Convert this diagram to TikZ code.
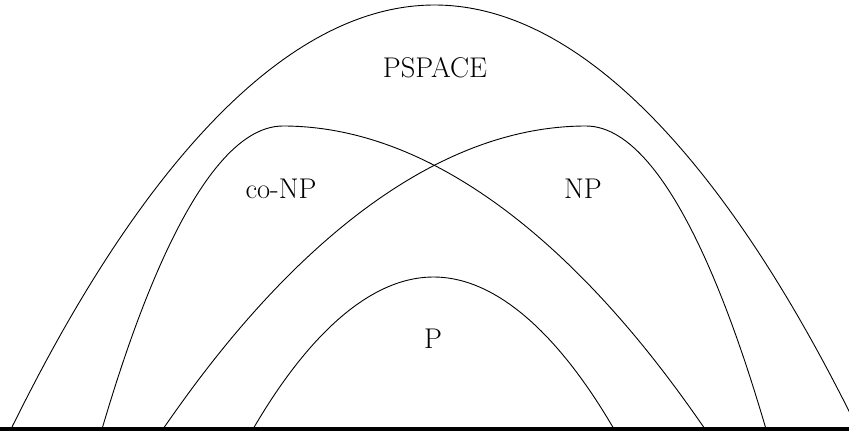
\documentclass[tikz,border=0pt]{standalone}
\begin{document}
\begin{tikzpicture}[x=1pt,y=-1pt,
  classcurve/.style={line width=0.9pt},
  ground/.style={line width=3.2pt},
  classlabel/.style={anchor=base,inner sep=0pt,font=\fontsize{28.5}{34}\selectfont}]
\useasboundingbox (0,0) rectangle (849,432);
\clip (0,0) rectangle (849,432);
% PSPACE
\draw[classcurve] (11,429) parabola bend (434.5,5) (858,429);
% co-NP
\draw[classcurve] (102,429) parabola bend (283,126) (705,429);
% NP
\draw[classcurve] (163,429) parabola bend (586,126) (766,429);
% P
\draw[classcurve] (253,429) parabola bend (433.5,277) (614,429);
% baseline
\draw[ground] (0,429) -- (849,429);
\node[classlabel] (pspace) at (435,77) {PSPACE};
\node[classlabel] (conp) at (281,198) {co-NP};
\node[classlabel] (np) at (583,198) {NP};
\node[classlabel] (p) at (433,348) {P};
\end{tikzpicture}
\end{document}
